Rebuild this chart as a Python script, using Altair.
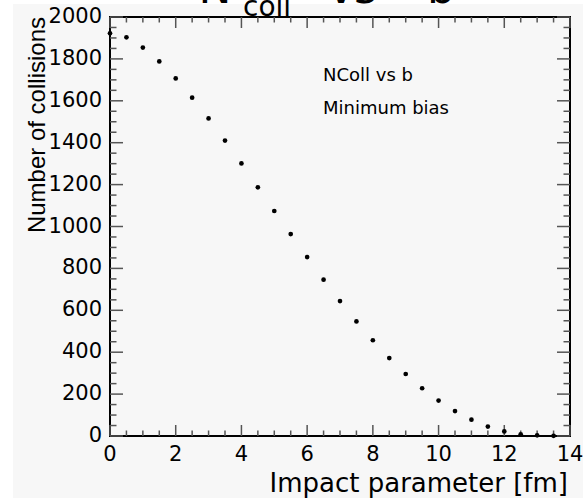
import altair as alt
import pandas as pd

# Impact parameter b [fm] and mean number of binary collisions
impact_b = [0.0, 0.5, 1.0, 1.5, 2.0, 2.5, 3.0, 3.5, 4.0, 4.5, 5.0, 5.5, 6.0, 6.5,
            7.0, 7.5, 8.0, 8.5, 9.0, 9.5, 10.0, 10.5, 11.0, 11.5, 12.0, 12.5, 13.0, 13.5]
n_coll = [1922, 1903, 1854, 1788, 1707, 1615, 1516, 1410, 1301, 1187, 1074, 964, 854, 746,
          644, 547, 457, 372, 296, 228, 169, 119, 78, 45, 22, 8, 3, 1]

# Axis tick positions (major ones are labelled)
x_major = [0, 2, 4, 6, 8, 10, 12, 14]
x_minor = [0.5, 1, 1.5, 2.5, 3, 3.5, 4.5, 5, 5.5, 6.5, 7, 7.5, 8.5, 9, 9.5,
           10.5, 11, 11.5, 12.5, 13, 13.5]
y_major = [0, 200, 400, 600, 800, 1000, 1200, 1400, 1600, 1800, 2000]
y_minor = [v for v in range(50, 2000, 50) if v % 200 != 0]

W, H = 460, 419
XS = alt.Scale(domain=[0, 14], nice=False, zero=False)
YS = alt.Scale(domain=[0, 2000], nice=False, zero=False)
FONT = "DejaVu Sans"
TICK = "#555555"

df = pd.DataFrame({"b": impact_b, "n": n_coll})
one = pd.DataFrame({"k": [0]})


def strip(x0, x1, y0, y1):
    return alt.Chart(one).mark_rect(color="white").encode(
        x=alt.value(x0), x2=alt.value(x1), y=alt.value(y0), y2=alt.value(y1)
    )


# white margins on the left and top of the grey canvas
strips = [strip(-110, -97, -17, 481), strip(-110, 473, -17, -13)]

points = alt.Chart(df).mark_circle(size=22, color="black", opacity=1).encode(
    x=alt.X("b:Q", scale=XS, axis=None),
    y=alt.Y("n:Q", scale=YS, axis=None),
)


def xticks(values, y0, y1):
    return alt.Chart(pd.DataFrame({"t": values})).mark_rule(color=TICK, strokeWidth=1.5).encode(
        x=alt.X("t:Q", scale=XS, axis=None), y=alt.value(y0), y2=alt.value(y1)
    )


def yticks(values, x0, x1):
    return alt.Chart(pd.DataFrame({"t": values})).mark_rule(color=TICK, strokeWidth=1.5).encode(
        y=alt.Y("t:Q", scale=YS, axis=None), x=alt.value(x0), x2=alt.value(x1)
    )


ticks = [
    xticks(x_major, H, H - 11), xticks(x_minor, H, H - 5.5),
    xticks(x_major, 0, 11), xticks(x_minor, 0, 5.5),
    yticks(y_major, 0, 13), yticks(y_minor, 0, 6.5),
    yticks(y_major, W, W - 13), yticks(y_minor, W, W - 6.5),
]

# tick labels placed through the same scales
x_labels = alt.Chart(pd.DataFrame({"t": x_major})).mark_text(
    font=FONT, fontSize=21, color="black", align="center", baseline="top"
).encode(
    x=alt.X("t:Q", scale=XS, axis=None), y=alt.value(H + 8),
    text=alt.Text("t:Q", format="d"),
)
y_labels = alt.Chart(pd.DataFrame({"t": y_major})).mark_text(
    font=FONT, fontSize=21, color="black", align="right", baseline="middle"
).encode(
    y=alt.Y("t:Q", scale=YS, axis=None), x=alt.value(-8),
    text=alt.Text("t:Q", format="d"),
)


def label(text, x, y, size, align="left", font=FONT, angle=0):
    return alt.Chart(one).mark_text(
        font=font, fontSize=size, color="black", align=align, baseline="alphabetic",
        angle=angle,
    ).encode(x=alt.value(x), y=alt.value(y), text=alt.value(text))


texts = [
    label("Impact parameter [fm]", 458, 56 + H, 26, "right"),
    label("Number of collisions", -65, 0, 24, "right", "Liberation Sans", 270),
    label("NColl vs b", 213, 64, 18),
    label("Minimum bias", 213, 97, 18),
    # plot title N_coll vs b, mostly above the canvas edge
    label("N", 105, -14, 44, "center"),
    label("coll", 133, -1, 28),
    label("vs", 218, -14, 44),
    label("b", 317, -14, 44),
]

chart = alt.layer(*strips, *ticks, points, x_labels, y_labels, *texts).properties(
    width=W, height=H,
    autosize=alt.AutoSizeParams(type="none"),
    padding={"left": 110, "top": 17, "right": 13, "bottom": 62},
    background="#f7f7f7",
).configure_view(stroke="black", strokeWidth=2)

chart.save("out.html", embed_options={"renderer": "svg", "actions": False})
